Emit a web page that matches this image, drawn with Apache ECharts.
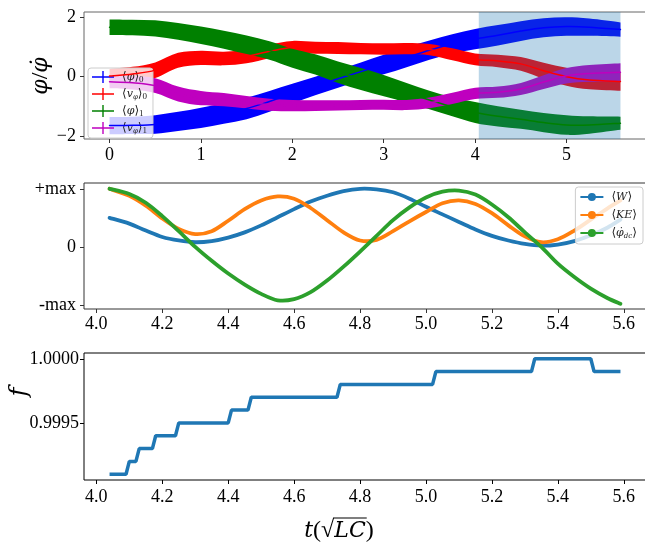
<!DOCTYPE html>
<html><head><meta charset="utf-8">
<script src="https://cdn.jsdelivr.net/npm/echarts@6/dist/echarts.min.js"></script>
<style>html,body{margin:0;padding:0;background:#fff}#c{width:645px;height:546px}</style>
</head><body><div id="c"></div><script>
// ---------- top panel: phase bands (centre value and error half-width) ----------
const tTop = [0, 0.25, 0.5, 0.75, 1.0, 1.25, 1.5, 1.75, 2.0, 2.25, 2.5, 2.75, 3.0, 3.25, 3.5, 3.75, 4.0, 4.25, 4.5, 4.75, 5.0, 5.25, 5.59];
const phi0    = [-1.64,-1.63,-1.60,-1.50,-1.38,-1.23,-1.07,-0.83,-0.57,-0.31,-0.07,0.17,0.41,0.65,0.89,1.10,1.26,1.39,1.53,1.64,1.68,1.66,1.58];
const phi0Err = [0.29,0.29,0.31,0.32,0.34,0.35,0.36,0.35,0.33,0.31,0.30,0.31,0.33,0.33,0.32,0.32,0.34,0.34,0.33,0.32,0.31,0.29,0.24];
const vphi0    = [0.02,0.09,0.22,0.55,0.63,0.61,0.68,0.85,0.98,0.97,0.96,0.94,0.93,0.94,0.91,0.75,0.58,0.53,0.43,0.20,0.00,-0.11,-0.16];
const vphi0Err = [0.24,0.24,0.26,0.25,0.24,0.23,0.23,0.23,0.22,0.20,0.20,0.19,0.19,0.19,0.19,0.20,0.20,0.21,0.23,0.27,0.30,0.31,0.31];
const phi1    = [1.66,1.65,1.62,1.52,1.39,1.24,1.07,0.88,0.62,0.41,0.15,-0.08,-0.30,-0.54,-0.78,-1.01,-1.20,-1.33,-1.43,-1.54,-1.62,-1.62,-1.56];
const phi1Err = [0.26,0.26,0.27,0.28,0.29,0.30,0.31,0.31,0.32,0.34,0.36,0.37,0.36,0.33,0.31,0.32,0.35,0.34,0.32,0.32,0.33,0.29,0.22];
const vphi1    = [-0.17,-0.20,-0.30,-0.58,-0.72,-0.77,-0.86,-0.94,-0.97,-0.97,-0.96,-0.95,-0.94,-0.95,-0.88,-0.73,-0.56,-0.52,-0.41,-0.18,0.03,0.11,0.15];
const vphi1Err = [0.22,0.23,0.25,0.25,0.24,0.22,0.21,0.20,0.19,0.18,0.17,0.17,0.17,0.17,0.18,0.19,0.19,0.19,0.20,0.23,0.26,0.28,0.30];
const topXTicks = [0, 1, 2, 3, 4, 5];
const topYTicks = [-2, 0, 2];

// ---------- middle panel: normalised quantities ----------
const tMid = [4.04,4.10,4.15,4.20,4.25,4.30,4.35,4.40,4.45,4.50,4.55,4.60,4.65,4.70,4.75,4.80,4.85,4.90,4.95,5.00,5.05,5.10,5.15,5.20,5.25,5.30,5.35,5.40,5.45,5.50,5.55,5.59];
const W   = [0.50,0.40,0.28,0.17,0.11,0.08,0.10,0.16,0.25,0.37,0.51,0.65,0.78,0.88,0.96,1.00,0.99,0.94,0.83,0.69,0.56,0.43,0.30,0.19,0.11,0.05,0.02,0.04,0.10,0.20,0.33,0.47];
const KE  = [1.00,0.88,0.71,0.49,0.31,0.22,0.27,0.45,0.65,0.80,0.87,0.83,0.67,0.46,0.25,0.11,0.12,0.27,0.44,0.60,0.75,0.80,0.74,0.58,0.37,0.18,0.08,0.13,0.28,0.47,0.66,0.80];
const PHID = [1.00,0.91,0.76,0.53,0.27,0.00,-0.24,-0.46,-0.65,-0.81,-0.92,-0.90,-0.78,-0.58,-0.34,-0.08,0.19,0.46,0.68,0.85,0.95,0.97,0.90,0.73,0.51,0.25,0.00,-0.29,-0.52,-0.72,-0.88,-0.98];
const midXTicks = [4.0,4.2,4.4,4.6,4.8,5.0,5.2,5.4,5.6];
const midYTicks = [-1, 0, 1];
const midYLabels = ['-max', '0', '+max'];

// ---------- bottom panel: f (step endpoints) ----------
const tF = [4.04,4.09,4.10,4.12,4.13,4.17,4.18,4.24,4.25,4.40,4.41,4.46,4.47,4.73,4.74,5.02,5.03,5.32,5.33,5.50,5.51,5.59];
const fVals = [0.9991,0.9991,0.9992,0.9992,0.9993,0.9993,0.9994,0.9994,0.9995,0.9995,0.9996,0.9996,0.9997,0.9997,0.9998,0.9998,0.9999,0.9999,1.0000,1.0000,0.9999,0.9999];
const fTicks = [0.9995, 1.0];

const SERIF = "'Liberation Serif', 'DejaVu Serif', serif";
const MATH = "'DejaVu Serif', serif";
const C = {p0:'#0000ff', v0:'#ff0000', p1:'#008000', v1:'#bf00bf', W:'#1f77b4', KE:'#ff7f0e', pd:'#2ca02c'};

function spline(pts, first) {
  let s = (first ? 'M' : 'L') + pts[0][0] + ' ' + pts[0][1];
  for (let i = 0; i < pts.length - 1; i++) {
    const p0 = pts[Math.max(0, i - 1)], p1 = pts[i], p2 = pts[i + 1], p3 = pts[Math.min(pts.length - 1, i + 2)];
    const c1x = p1[0] + (p2[0] - p0[0]) / 6, c1y = p1[1] + (p2[1] - p0[1]) / 6;
    const c2x = p2[0] - (p3[0] - p1[0]) / 6, c2y = p2[1] - (p3[1] - p1[1]) / 6;
    s += ' C' + c1x + ' ' + c1y + ' ' + c2x + ' ' + c2y + ' ' + p2[0] + ' ' + p2[1];
  }
  return s;
}
function bandRender(color) {
  return function (params, api) {
    if (params.dataIndexInside !== 0) return null;
    const n = params.dataInsideLength, up = [], lo = [];
    for (let i = 0; i < n; i++) {
      const t = api.value(0, i);
      lo.push(api.coord([t, api.value(1, i)]));
      up.push(api.coord([t, api.value(2, i)]));
    }
    const d = spline(up, true) + ' ' + spline(lo.reverse(), false) + ' Z';
    return {type: 'path', shape: {pathData: d}, style: {fill: color, stroke: null}};
  };
}
function curveRender(color, width) {
  return function (params, api) {
    if (params.dataIndexInside !== 0) return null;
    const n = params.dataInsideLength, pts = [];
    for (let i = 0; i < n; i++) pts.push(api.coord([api.value(0, i), api.value(1, i)]));
    return {type: 'path', shape: {pathData: spline(pts, true)},
            style: {fill: null, stroke: color, lineWidth: width, lineJoin: 'round', lineCap: 'round'}};
  };
}
function band(name, c, e, color) {
  return {
    name: name, type: 'custom', xAxisIndex: 0, yAxisIndex: 0, z: 2,
    itemStyle: {color: color}, encode: {x: 0, y: [1, 2]},
    data: tTop.map((t, i) => [t, c[i] - e[i], c[i] + e[i]]),
    renderItem: bandRender(color), silent: true
  };
}
function curve(name, xs, ys, color, width, axis, z) {
  return {
    name: name, type: 'custom', xAxisIndex: axis, yAxisIndex: axis, z: z,
    itemStyle: {color: color}, encode: {x: 0, y: 1},
    data: xs.map((t, i) => [t, ys[i]]),
    renderItem: curveRender(color, width), silent: true
  };
}
function legendLine(name, color) {
  return {name: name, type: 'line', xAxisIndex: 1, yAxisIndex: 1, data: [],
          symbol: 'circle', symbolSize: 5, color: color, lineStyle: {width: 1.5}};
}

const pad = (a, b) => [a - 0.05 * (b - a), b + 0.05 * (b - a)];
const topX = pad(tTop[0], tTop[tTop.length - 1]);
const midX = pad(tMid[0], tMid[tMid.length - 1]);

const tickStyle = (col) => ({show: true, inside: false, length: 4, lineStyle: {color: col, width: 1}});
const lbl = (extra) => Object.assign({color: '#000', fontFamily: SERIF, fontSize: 18}, extra);
const noLine = {show: false, onZero: false};

const grids = [
  {left: 84, right: -1, top: 12, height: 127, show: true, borderColor: '#666', borderWidth: 1},
  {left: 84, right: -1, top: 183, height: 126, show: true, borderColor: '#333', borderWidth: 1},
  {left: 84, right: -1, top: 353, height: 127, show: true, borderColor: '#000', borderWidth: 1}
];
grids.forEach(g => g.outerBoundsMode = 'none');

// x-axis label t(sqrt(LC)) assembled from measured pieces
const mctx = document.createElement('canvas').getContext('2d');
function tw(font, s) { mctx.font = font; return mctx.measureText(s).width; }
const FI = "italic 22px 'DejaVu Serif'", FR = "24px 'Liberation Serif'";
const pieces = [['t', FI], ['(', FR], ['\u221a', FR], ['LC', FI], [')', FR]];
const widths = pieces.map(p => tw(p[1], p[0]));
const totalW = widths.reduce((a, b) => a + b, 0);
let cx = 339 - totalW / 2;
const xlabelEls = [];
let lcStart = 0, lcEnd = 0;
pieces.forEach((p, k) => {
  if (p[0] === 'LC') { lcStart = cx; lcEnd = cx + widths[k]; }
  xlabelEls.push({type: 'text', x: cx, y: 531, z: 10,
    style: {text: p[0], font: p[1], fill: '#000', align: 'left', verticalAlign: 'middle'}});
  cx += widths[k];
});
xlabelEls.push({type: 'line', z: 10, shape: {x1: lcStart - 1, y1: 518, x2: lcEnd + 1, y2: 518},
  style: {stroke: '#000', lineWidth: 1.2}});

const option = {
  animation: false,
  backgroundColor: '#fff',
  grid: grids,
  xAxis: [
    {gridIndex: 0, type: 'value', min: topX[0], max: topX[1], splitLine: {show: false},
     axisLine: noLine, axisTick: Object.assign(tickStyle('#333'), {customValues: topXTicks}),
     axisLabel: lbl({customValues: topXTicks, margin: 7, formatter: v => String(v)})},
    {gridIndex: 1, type: 'value', min: midX[0], max: midX[1], splitLine: {show: false},
     axisLine: noLine, axisTick: Object.assign(tickStyle('#333'), {customValues: midXTicks}),
     axisLabel: lbl({customValues: midXTicks, margin: 6, formatter: v => v.toFixed(1)})},
    {gridIndex: 2, type: 'value', min: midX[0], max: midX[1], splitLine: {show: false},
     axisLine: noLine, axisTick: Object.assign(tickStyle('#000'), {customValues: midXTicks}),
     axisLabel: lbl({customValues: midXTicks, margin: 8, formatter: v => v.toFixed(1)})}
  ],
  yAxis: [
    {gridIndex: 0, type: 'value', min: -2.09, max: 2.17, splitLine: {show: false},
     axisLine: noLine, axisTick: Object.assign(tickStyle('#333'), {customValues: topYTicks}),
     axisLabel: lbl({customValues: topYTicks, margin: 8, formatter: v => v < 0 ? '\u2212' + Math.abs(v) : String(v)})},
    {gridIndex: 1, type: 'value', min: -1.07, max: 1.10, splitLine: {show: false},
     axisLine: noLine, axisTick: Object.assign(tickStyle('#333'), {customValues: midYTicks}),
     axisLabel: lbl({customValues: midYTicks, margin: 8, formatter: v => midYLabels[midYTicks.indexOf(Math.round(v))]})},
    {gridIndex: 2, type: 'value', min: 0.999055, max: 1.000045, splitLine: {show: false},
     axisLine: noLine, axisTick: Object.assign(tickStyle('#000'), {customValues: fTicks}),
     axisLabel: lbl({customValues: fTicks, margin: 5, formatter: v => v.toFixed(4)})}
  ],
  legend: [
    {data: ['p0', 'v0', 'p1', 'v1'], left: 88, top: 68, orient: 'vertical',
     itemWidth: 22, itemHeight: 12, itemGap: 4, padding: [3, 6, 3, 4],
     backgroundColor: 'rgba(255,255,255,0.8)', borderColor: '#cccccc', borderWidth: 1, borderRadius: 3,
     icon: 'path://M0,5.3h22v1.4h-22z M10.3,0h1.4v12h-1.4z',
     formatter: n => ({
       p0: '{m|\u27e8}{i|\u03c6}{m|\u27e9}{s|0}',
       v0: '{m|\u27e8}{i|v}{si|\u03c6}{m|\u27e9}{s|0}',
       p1: '{m|\u27e8}{i|\u03c6}{m|\u27e9}{s|1}',
       v1: '{m|\u27e8}{i|v}{si|\u03c6}{m|\u27e9}{s|1}'
     })[n],
     textStyle: {padding: [0, 0, 0, 3], rich: {
       m: {fontFamily: SERIF, fontSize: 12, color: '#222', verticalAlign: 'middle', lineHeight: 14},
       i: {fontFamily: MATH, fontStyle: 'italic', fontSize: 11, color: '#222', verticalAlign: 'middle', lineHeight: 14},
       s: {fontFamily: SERIF, fontSize: 9, color: '#222', verticalAlign: 'bottom', lineHeight: 14},
       si: {fontFamily: MATH, fontStyle: 'italic', fontSize: 7, color: '#222', verticalAlign: 'bottom', lineHeight: 14}
     }}},
    {data: ['W', 'KE', 'pd'], right: 2, top: 187, orient: 'vertical',
     itemWidth: 23, itemHeight: 10, itemGap: 6, padding: [4, 6, 4, 4],
     backgroundColor: 'rgba(255,255,255,0.8)', borderColor: '#cccccc', borderWidth: 1, borderRadius: 3,
     formatter: n => ({
       W: '{m|\u27e8}{i|W}{m|\u27e9}',
       KE: '{m|\u27e8}{i|KE}{m|\u27e9}',
       pd: '{m|\u27e8}{i|\u03c6\u0307}{si|dc}{m|\u27e9}'
     })[n],
     textStyle: {padding: [0, 0, 0, 3], rich: {
       m: {fontFamily: SERIF, fontSize: 12, color: '#222', verticalAlign: 'middle', lineHeight: 14},
       i: {fontFamily: MATH, fontStyle: 'italic', fontSize: 11, color: '#222', verticalAlign: 'middle', lineHeight: 14},
       si: {fontFamily: MATH, fontStyle: 'italic', fontSize: 7, color: '#222', verticalAlign: 'bottom', lineHeight: 14}
     }}}
  ],
  graphic: [
    {type: 'text', x: 41, y: 76, rotation: Math.PI / 2, z: 10,
     style: {text: '{i|\u03c6}{r|/}{i|\u03c6\u0307}', align: 'center', verticalAlign: 'middle',
       rich: {i: {fontFamily: MATH, fontStyle: 'italic', fontSize: 22, fill: '#000'}, r: {fontFamily: SERIF, fontSize: 24, fill: '#000'}}}},
    {type: 'text', x: 20, y: 392, rotation: Math.PI / 2, z: 10,
     style: {text: 'f', font: "italic 24px 'DejaVu Serif', serif", fill: '#000', align: 'center', verticalAlign: 'middle'}}
  ].concat(xlabelEls),
  series: [
    band('p0', phi0, phi0Err, C.p0),
    band('v0', vphi0, vphi0Err, C.v0),
    band('p1', phi1, phi1Err, C.p1),
    band('v1', vphi1, vphi1Err, C.v1),
    {name: 'shade', type: 'line', xAxisIndex: 0, yAxisIndex: 0, data: [], symbol: 'none',
     markArea: {silent: true, z: 3, itemStyle: {color: 'rgba(31,119,180,0.3)'},
       data: [[{xAxis: tMid[0]}, {xAxis: tMid[tMid.length - 1]}]]}},
    curve('p0c', tTop, phi0, C.p0, 1.5, 0, 4),
    curve('v0c', tTop, vphi0, C.v0, 1.5, 0, 4),
    curve('p1c', tTop, phi1, C.p1, 1.5, 0, 4),
    curve('v1c', tTop, vphi1, C.v1, 1.5, 0, 4),
    legendLine('W', C.W), legendLine('KE', C.KE), legendLine('pd', C.pd),
    curve('Wc', tMid, W, C.W, 3.8, 1, 2),
    curve('KEc', tMid, KE, C.KE, 3.8, 1, 2),
    curve('pdc', tMid, PHID, C.pd, 3.8, 1, 2),
    {name: 'f', type: 'line', xAxisIndex: 2, yAxisIndex: 2, data: tF.map((t, i) => [t, fVals[i]]),
     showSymbol: false, symbol: 'none', color: C.W, lineStyle: {width: 3.5}}
  ]
};
const chart = echarts.init(document.getElementById('c'));
chart.setOption(option);
</script></body></html>
